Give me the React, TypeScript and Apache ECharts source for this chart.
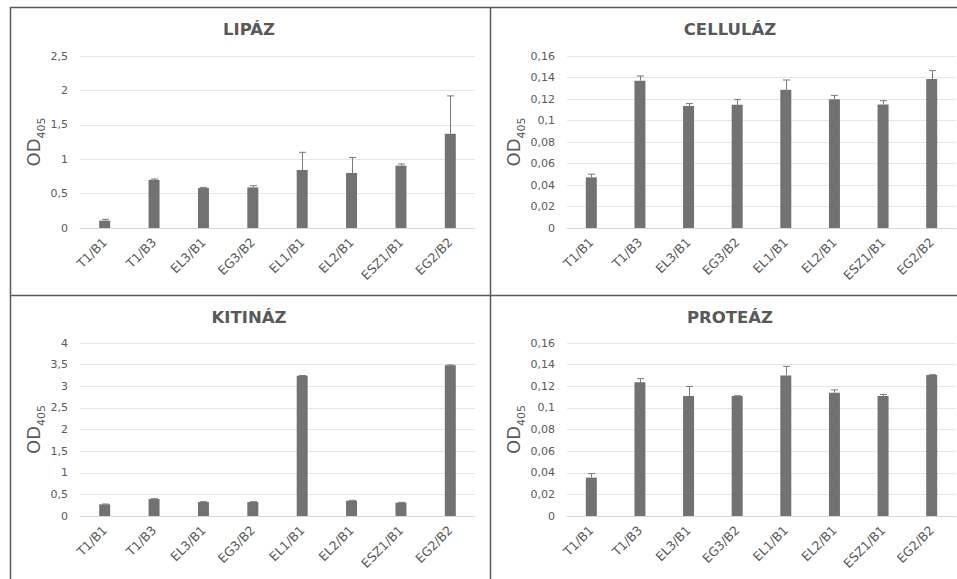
import React, { useEffect, useRef } from "react";
import * as echarts from "echarts";

const categories = ["T1/B1", "T1/B3", "EL3/B1", "EG3/B2", "EL1/B1", "EL2/B1", "ESZ1/B1", "EG2/B2"];

const lipazValues = [0.107, 0.70, 0.58, 0.59, 0.843, 0.80, 0.906, 1.37];
const lipazErrors = [0.02, 0.012, 0.01, 0.025, 0.257, 0.225, 0.024, 0.55];

const cellulazValues = [0.0471, 0.137, 0.1135, 0.1147, 0.1287, 0.1197, 0.115, 0.1386];
const cellulazErrors = [0.003, 0.0044, 0.0022, 0.0047, 0.009, 0.0037, 0.0034, 0.0078];

const kitinazValues = [0.269, 0.392, 0.323, 0.323, 3.24, 0.354, 0.308, 3.485];
const kitinazErrors = [0.008, 0.008, 0.008, 0.008, 0.008, 0.008, 0.008, 0.008];

const proteazValues = [0.0355, 0.1236, 0.1109, 0.1109, 0.130, 0.114, 0.111, 0.1304];
const proteazErrors = [0.0037, 0.0034, 0.0089, 0.0003, 0.0084, 0.0027, 0.0014, 0.0003];

const titles = ["LIPÁZ", "CELLULÁZ", "KITINÁZ", "PROTEÁZ"];
const yMax = [2.5, 0.16, 4, 0.16];
const yInterval = [0.5, 0.02, 0.5, 0.02];

const FONT = "'DejaVu Sans', 'Open Sans', sans-serif";
const TXT = "#595959";

export default function App() {
  const ref = useRef<HTMLDivElement>(null);
  useEffect(() => {
    if (!ref.current) return;
    const chart = echarts.init(ref.current, null, { renderer: "svg" });
    const values = [lipazValues, cellulazValues, kitinazValues, proteazValues];
    const errors = [lipazErrors, cellulazErrors, kitinazErrors, proteazErrors];
    const grids = [
      { left: 80, top: 56, width: 395, height: 172 },
      { left: 567, top: 56, width: 389, height: 172 },
      { left: 80, top: 343, width: 395, height: 173 },
      { left: 567, top: 343, width: 389, height: 173 },
    ];
    const titlePos = [
      [249, 29],
      [730, 29],
      [249, 317],
      [730, 317],
    ];
    const nameGaps = [28, 34, 28, 34];
    const fmt = (v: number) => String(Math.round(v * 1000) / 1000).replace(".", ",");

    const series: any[] = [];
    values.forEach((vals, i) => {
      series.push({
        type: "bar",
        xAxisIndex: i,
        yAxisIndex: i,
        data: vals,
        barWidth: 11,
        itemStyle: { color: "#727272" },
        silent: true,
      });
      series.push({
        type: "custom",
        xAxisIndex: i,
        yAxisIndex: i,
        silent: true,
        data: vals.map((v, k) => [k, v, v + errors[i][k]]),
        renderItem: (params: any, api: any) => {
          const idx = api.value(0);
          const lo = api.coord([idx, api.value(1)]);
          const hi = api.coord([idx, api.value(2)]);
          const x = Math.round(lo[0]) + 0.5;
          const cw = 3.5;
          return {
            type: "group",
            children: [
              {
                type: "line",
                shape: { x1: x, y1: lo[1], x2: x, y2: hi[1] },
                style: { stroke: "#7a7a7a", lineWidth: 1 },
              },
              {
                type: "line",
                shape: { x1: x - cw, y1: hi[1], x2: x + cw, y2: hi[1] },
                style: { stroke: "#7a7a7a", lineWidth: 1 },
              },
            ],
          };
        },
        z: 3,
      });
    });

    chart.setOption({
      animation: false,
      backgroundColor: "#ffffff",
      title: titles.map((t, i) => ({
        text: t,
        left: titlePos[i][0],
        top: titlePos[i][1],
        textAlign: "center",
        textVerticalAlign: "middle",
        padding: 0,
        textStyle: { fontFamily: FONT, fontSize: 16.5, fontWeight: "bold", color: TXT },
      })),
      grid: grids.map((g) => ({ ...g, containLabel: false })),
      xAxis: grids.map((_, i) => ({
        type: "category",
        gridIndex: i,
        data: categories,
        axisLine: { show: true, lineStyle: { color: "#d9d9d9", width: 1 } },
        axisTick: { show: false },
        axisLabel: {
          rotate: 45,
          interval: 0,
          margin: 12,
          fontFamily: FONT,
          fontSize: 12.5,
          color: TXT,
        },
      })),
      yAxis: grids.map((_, i) => ({
        type: "value",
        gridIndex: i,
        min: 0,
        max: yMax[i],
        interval: yInterval[i],
        name: "{a|OD}{b|405}",
        nameLocation: "middle",
        nameGap: nameGaps[i],
        nameRotate: 90,
        nameTextStyle: {
          color: TXT,
          fontFamily: FONT,
          rich: {
            a: { fontSize: 18, color: TXT, fontFamily: FONT, lineHeight: 22 },
            b: { fontSize: 11, color: TXT, fontFamily: FONT, lineHeight: 22, padding: [16, 0, 0, 0] },
          },
        },
        axisLine: { show: false },
        axisTick: { show: false },
        splitLine: { show: true, lineStyle: { color: "#e6e6e6", width: 1 } },
        axisLabel: {
          margin: 12,
          fontFamily: FONT,
          fontSize: 11,
          color: TXT,
          formatter: fmt,
        },
      })),
      graphic: [
        { type: "line", shape: { x1: 10, y1: 7.5, x2: 957, y2: 7.5 }, style: { stroke: "#595959", lineWidth: 1.5 } },
        { type: "line", shape: { x1: 10.5, y1: 7, x2: 10.5, y2: 579 }, style: { stroke: "#595959", lineWidth: 1.5 } },
        { type: "line", shape: { x1: 490.5, y1: 7, x2: 490.5, y2: 579 }, style: { stroke: "#595959", lineWidth: 1.5 } },
        { type: "line", shape: { x1: 10, y1: 295.5, x2: 957, y2: 295.5 }, style: { stroke: "#595959", lineWidth: 1.5 } },
      ],
      series,
    });
    return () => chart.dispose();
  }, []);
  return (
    <div
      ref={ref}
      style={{ position: "fixed", left: 0, top: 0, width: 957, height: 579, background: "#fff" }}
    />
  );
}
